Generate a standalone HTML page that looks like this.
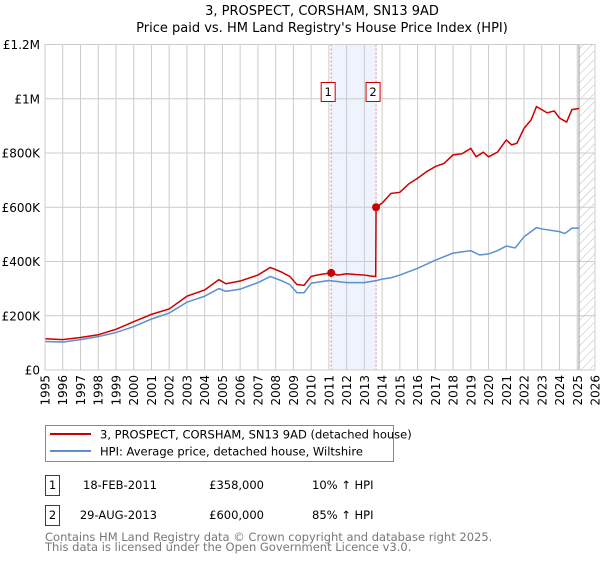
<!DOCTYPE html>
<html><head><meta charset="utf-8"><style>
body{margin:0;background:#fff;font-family:"DejaVu Sans","Liberation Sans",sans-serif;}
svg text{font-family:"DejaVu Sans","Liberation Sans",sans-serif;}
</style></head><body>
<svg id="chart" width="600" height="560" xmlns="http://www.w3.org/2000/svg">
<defs><pattern id="hatch" width="6" height="6" patternUnits="userSpaceOnUse" patternTransform="rotate(45)"><line x1="0" y1="0" x2="0" y2="6" stroke="#bbb" stroke-width="1"/></pattern></defs>
<text x="322" y="15" text-anchor="middle" font-size="13" fill="#000">3, PROSPECT, CORSHAM, SN13 9AD</text>
<text x="322" y="32" text-anchor="middle" font-size="13" fill="#000">Price paid vs. HM Land Registry's House Price Index (HPI)</text>
<g id="plot"></g>
<g>
<rect x="45.5" y="425.5" width="348" height="36" fill="#fff" stroke="#888"/>
<line x1="50" y1="434" x2="91" y2="434" stroke="#cc0000" stroke-width="2"/>
<text x="100" y="438.5" font-size="11.5" fill="#000">3, PROSPECT, CORSHAM, SN13 9AD (detached house)</text>
<line x1="50" y1="451" x2="91" y2="451" stroke="#5b8fd0" stroke-width="2"/>
<text x="100" y="455.5" font-size="11.5" fill="#000">HPI: Average price, detached house, Wiltshire</text>
</g>
<g font-size="11.5" fill="#000">
<rect x="45.5" y="475.5" width="14" height="20" fill="#fff" stroke="#cc0000"/>
<text x="52.5" y="489" text-anchor="middle">1</text>
<text x="157" y="489" text-anchor="end">18-FEB-2011</text>
<text x="264" y="489" text-anchor="end">£358,000</text>
<text x="312" y="489">10% ↑ HPI</text>
<rect x="45.5" y="505.5" width="14" height="20" fill="#fff" stroke="#cc0000"/>
<text x="52.5" y="519" text-anchor="middle">2</text>
<text x="157" y="519" text-anchor="end">29-AUG-2013</text>
<text x="264" y="519" text-anchor="end">£600,000</text>
<text x="312" y="519">85% ↑ HPI</text>
</g>
<text x="45" y="541" font-size="11.5" fill="#777">Contains HM Land Registry data © Crown copyright and database right 2025.</text>
<text x="45" y="551" font-size="11.5" fill="#777">This data is licensed under the Open Government Licence v3.0.</text>
</svg>
<script>
const hpiYears=[1995,1996,1997,1998,1999,2000,2001,2002,2003,2004,2004.8,2005.2,2006,2007,2007.7,2008.3,2008.8,2009.2,2009.6,2010,2011,2012,2013,2013.7,2014,2014.5,2015,2016,2017,2018,2019,2019.5,2020,2020.5,2021,2021.5,2022,2022.7,2023,2023.5,2024,2024.3,2024.7,2025.1];
const hpiValues=[105,103,112,123,138,160,188,210,250,272,300,290,298,322,345,330,315,285,285,320,330,322,322,330,335,340,350,375,405,431,440,424,428,440,457,450,491,525,520,515,510,503,523,523];
const priceYears=[1995,1996,1997,1998,1999,2000,2001,2002,2003,2004,2004.8,2005.2,2006,2007,2007.7,2008.3,2008.8,2009.2,2009.6,2010,2010.5,2011.13,2011.5,2012,2012.5,2013,2013.5,2013.64,2013.66,2014,2014.5,2015,2015.5,2016,2016.5,2017,2017.5,2018,2018.5,2019,2019.3,2019.7,2020,2020.5,2021,2021.3,2021.6,2022,2022.4,2022.7,2023,2023.3,2023.7,2024,2024.4,2024.7,2025.1];
const priceValues=[115,112,120,130,150,178,205,225,272,295,333,318,328,350,378,362,345,315,312,345,352,358,350,355,352,350,345,345,600,615,651,655,686,707,731,750,762,793,797,817,786,803,786,803,848,830,836,891,922,971,960,948,955,929,914,960,964];
const saleYears=[2011.13,2013.66];
const saleValues=[358,600];
const saleLabels=["1","2"];
const yTicks=[0,200,400,600,800,1000,1200];
const yTickLabels=["£0","£200K","£400K","£600K","£800K","£1M","£1.2M"];
const xTicks=[1995,1996,1997,1998,1999,2000,2001,2002,2003,2004,2005,2006,2007,2008,2009,2010,2011,2012,2013,2014,2015,2016,2017,2018,2019,2020,2021,2022,2023,2024,2025,2026];
const dataEnd=2025.1;

const X0=45,X1=595,Y0=370,Y1=44.5;
const x=v=>X0+(v-1995)/(2026-1995)*(X1-X0);
const y=v=>Y0-v/1200*(Y0-Y1);
const NS="http://www.w3.org/2000/svg";
const g=document.getElementById('plot');
function mk(tag,attrs,parent){const e=document.createElementNS(NS,tag);for(const k in attrs)e.setAttribute(k,attrs[k]);(parent||g).appendChild(e);return e;}

const bg=mk('rect',{x:X0,y:Y1,width:X1-X0,height:Y0-Y1,fill:'#fff'});


const shade=mk('rect',{x:x(saleYears[0]),y:Y1,width:x(saleYears[1])-x(saleYears[0]),height:Y0-Y1,fill:'#eef3fd'});


const hatch=mk('rect',{x:x(dataEnd),y:Y1,width:X1-x(dataEnd),height:Y0-Y1,fill:'url(#hatch)'});


xTicks.forEach(t=>{
  const l=mk('line',{x1:x(t),x2:x(t),y1:Y1,y2:Y0,stroke:'#ccc','stroke-width':1});
  
  
  const tx=mk('text',{x:0,y:0,'font-size':12,'text-anchor':'end',fill:'#000',transform:`translate(${x(t)+4.5},${Y0+5}) rotate(-90)`});
  tx.textContent=t;
  
  
});
yTicks.forEach((t,i)=>{
  const l=mk('line',{x1:X0,x2:X1,y1:y(t),y2:y(t),stroke:'#ccc','stroke-width':1});
  
  
  const tx=mk('text',{x:40,y:y(t)+4.5,'font-size':12,'text-anchor':'end',fill:'#000'});
  tx.textContent=yTickLabels[i];
  
  
});
const endLine=mk('line',{x1:x(dataEnd),x2:x(dataEnd),y1:Y1,y2:Y0,stroke:'#999','stroke-width':1});


saleYears.forEach((s,i)=>{
  const l=mk('line',{x1:x(s),x2:x(s),y1:Y1,y2:Y0,stroke:'#f08080','stroke-width':1,'stroke-dasharray':'2,2'});
  
  
});
const hp=mk('polyline',{points:hpiYears.map((t,i)=>x(t)+','+y(hpiValues[i])).join(' '),fill:'none',stroke:'#5b8fd0','stroke-width':1.5});


const pp=mk('polyline',{points:priceYears.map((t,i)=>x(t)+','+y(priceValues[i])).join(' '),fill:'none',stroke:'#cc0000','stroke-width':1.5});


saleYears.forEach((s,i)=>{
  const c=mk('circle',{cx:x(s),cy:y(saleValues[i]),r:4,fill:'#cc0000'});
  
  
  const r=mk('rect',{x:x(s)-10,y:82.5,width:14,height:19,fill:'#fff',stroke:'#cc0000'});
  
  
  const t=mk('text',{x:x(s)-3,y:96,'font-size':11.5,'text-anchor':'middle',fill:'#000'});
  t.textContent=saleLabels[i];
  
  
});
const frame=mk('rect',{x:X0,y:Y1,width:X1-X0,height:Y0-Y1,fill:'none',stroke:'#ccc'});


</script>
</body></html>
